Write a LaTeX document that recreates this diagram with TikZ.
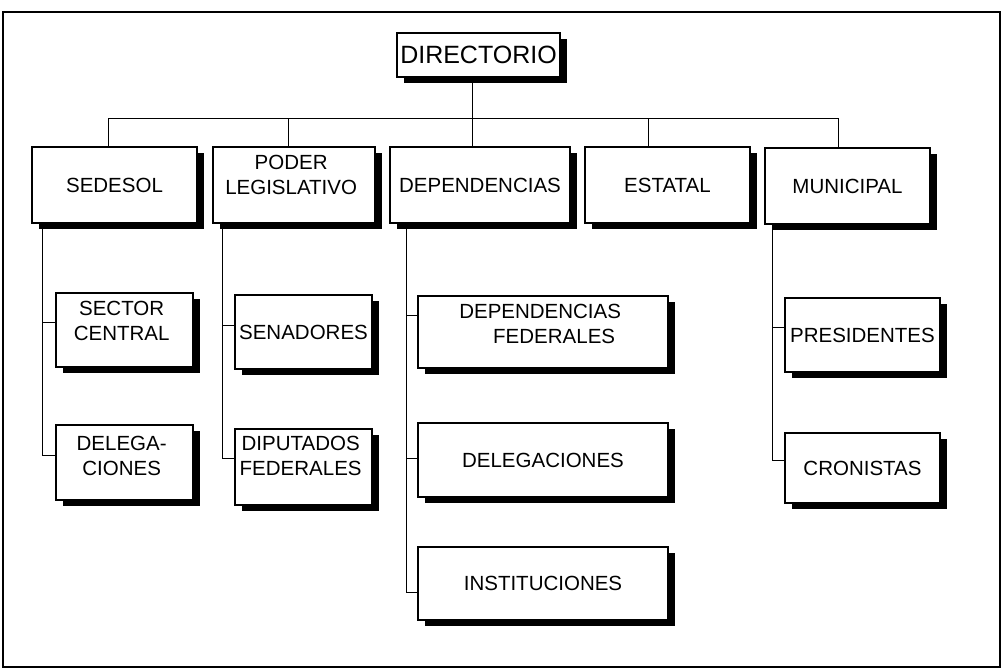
\documentclass[tikz,border=0pt]{standalone}
\usepackage{fontspec}
\setmainfont{Liberation Sans}
\usetikzlibrary{shadows, positioning}

\begin{document}
\begin{tikzpicture}[
    x=1pt, y=-1pt,
    %% ── Box styles ──────────────────────────────────────────────────────
    orgbox/.style={
        draw, line width=1.2pt, fill=white,
        drop shadow={shadow xshift=7pt, shadow yshift=-6pt, fill=black, opacity=1},
        inner sep=0pt,
        align=center,
        font=\fontsize{20.5}{25}\selectfont,
    },
    topbox/.style={
        orgbox,
        font=\fontsize{25}{30}\selectfont,
    },
    %% ── Line styles ─────────────────────────────────────────────────────
    conn/.style={line width=1pt},
    frame/.style={line width=1.3pt},
]

%% page and frame
\useasboundingbox (0,0) rectangle (1004,672);
\draw[frame] (3,12) rectangle (1000,667);

%%─────────────────────────────────────────────────────────────────────────
%% Top
%%─────────────────────────────────────────────────────────────────────────
\node[topbox, minimum width=163pt, minimum height=44pt] (dir) at (478.5,55) {DIRECTORIO};

%%─────────────────────────────────────────────────────────────────────────
%% First level
%%─────────────────────────────────────────────────────────────────────────
\node[orgbox, minimum width=165pt, minimum height=76pt] (sedesol) at (114.5,185) {SEDESOL};
\node[orgbox, minimum width=162pt, minimum height=76pt] (poder) at (294,185) {
    \begin{tabular}{@{}c@{}}PODER\\LEGISLATIVO\\[17pt]\end{tabular}
};
\node[orgbox, minimum width=180pt, minimum height=76pt] (dep) at (480,185) {DEPENDENCIAS};
\node[orgbox, minimum width=165pt, minimum height=76pt] (estatal) at (667.5,185) {ESTATAL};
\node[orgbox, minimum width=165pt, minimum height=76pt] (municipal) at (847.5,186) {MUNICIPAL};

%%─────────────────────────────────────────────────────────────────────────
%% Second level
%%─────────────────────────────────────────────────────────────────────────
\node[orgbox, minimum width=137pt, minimum height=74pt] (sector) at (124.5,330) {
    \begin{tabular}{@{}c@{}}SECTOR\\CENTRAL\\[14pt]\end{tabular}
};
\node[orgbox, minimum width=137pt, minimum height=75pt] (delegsed) at (124.5,462.5) {
    \begin{tabular}{@{}c@{}}DELEGA-\\CIONES\\[10pt]\end{tabular}
};
\node[orgbox, minimum width=137pt, minimum height=74pt] (senadores) at (303.5,332) {SENADORES};
\node[orgbox, minimum width=137pt, minimum height=76pt] (diputados) at (303.5,467) {
    \begin{tabular}{@{}c@{}}DIPUTADOS\\FEDERALES\\[19pt]\end{tabular}
};
\node[orgbox, minimum width=250pt, minimum height=72pt] (depfed) at (543,332) {
    \begin{tabular}{@{}c@{}}DEPENDENCIAS\\\hspace*{28pt}FEDERALES\\[13pt]\end{tabular}
};
\node[orgbox, minimum width=250pt, minimum height=74pt] (delegdep) at (543,460) {DELEGACIONES};
\node[orgbox, minimum width=250pt, minimum height=73pt] (instit) at (543,583.5) {INSTITUCIONES};
\node[orgbox, minimum width=155pt, minimum height=74pt] (presid) at (862.5,335) {PRESIDENTES};
\node[orgbox, minimum width=155pt, minimum height=70pt] (cronistas) at (862.5,468) {CRONISTAS};

%%─────────────────────────────────────────────────────────────────────────
%% Bus under DIRECTORIO
%%─────────────────────────────────────────────────────────────────────────
\coordinate (bus) at (0,118);
\draw[conn] ([xshift=-6.5pt]dir.south) -- ([xshift=-8pt]dep.north);
\draw[conn] ([xshift=-6.5pt]sedesol.north) |- ([xshift=-9.5pt]municipal.north |- bus)
    -- ([xshift=-9.5pt]municipal.north);
\draw[conn] ([xshift=-6pt]poder.north) -- ([xshift=-6pt]poder.north |- bus);
\draw[conn] ([xshift=-19.5pt]estatal.north) -- ([xshift=-19.5pt]estatal.north |- bus);

%%─────────────────────────────────────────────────────────────────────────
%% Trunks down to the second level
%%─────────────────────────────────────────────────────────────────────────
\coordinate (sedtrunk) at ([xshift=11pt]sedesol.south west);
\coordinate (podtrunk) at ([xshift=10pt]poder.south west);
\coordinate (deptrunk) at ([xshift=17pt]dep.south west);
\coordinate (muntrunk) at ([xshift=8pt]municipal.south west);

%% SEDESOL
\draw[conn] ([yshift=8pt]sector.west) -| (sedtrunk);
\draw[conn] ([yshift=7pt]delegsed.west) -| (sedtrunk);

%% PODER LEGISLATIVO
\draw[conn] ([yshift=7pt]senadores.west) -| (podtrunk);
\draw[conn] ([yshift=9pt]diputados.west) -| (podtrunk);

%% DEPENDENCIAS
\draw[conn] ([yshift=17pt]depfed.west) -| (deptrunk);
\draw[conn] ([yshift=2pt]delegdep.west) -| (deptrunk);
\draw[conn] ([yshift=-9pt]instit.west) -| (deptrunk);

%% MUNICIPAL
\draw[conn] ([yshift=8pt]presid.west) -| (muntrunk);
\draw[conn] ([yshift=8pt]cronistas.west) -| (muntrunk);

\end{tikzpicture}
\end{document}
